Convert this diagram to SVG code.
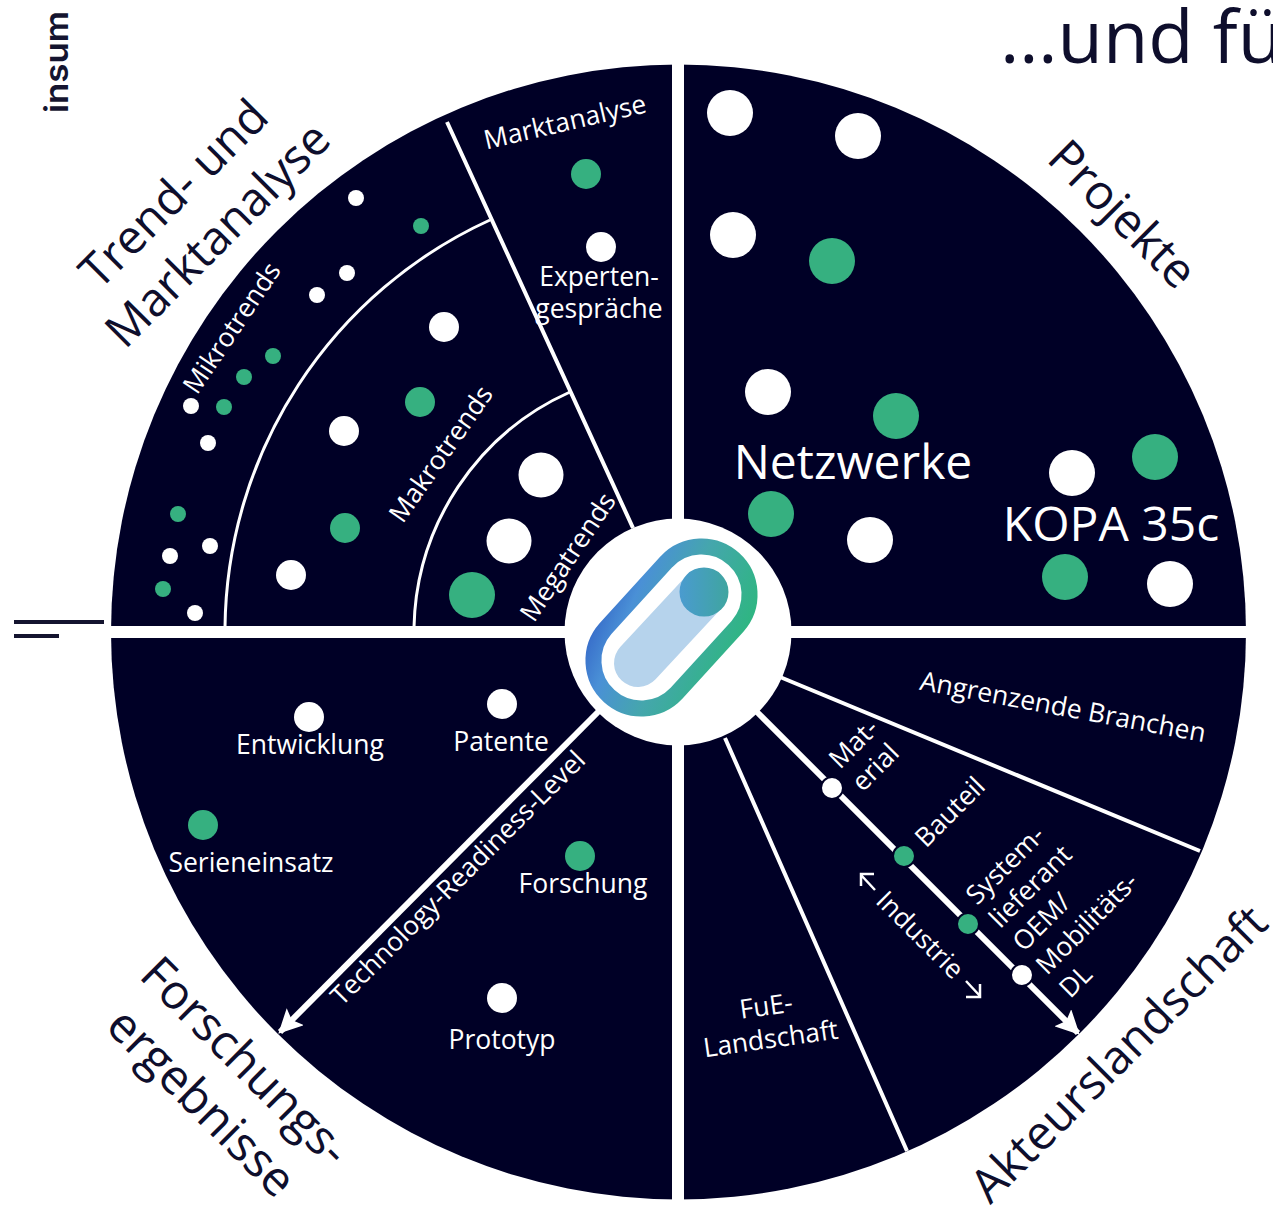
<svg xmlns="http://www.w3.org/2000/svg" width="1273" height="1213" viewBox="0 0 1273 1213">
<style>
text{font-family:"Open Sans","Noto Sans",sans-serif}
.s{font-size:26.500px;fill:#fff;text-anchor:middle}
.a{font-size:26.500px;fill:#fff}
.b{font-size:47px;fill:#0e0e2c;text-anchor:middle}
.w{fill:#fff}.g{fill:#36b080}
.l{stroke:#fff;fill:none}
</style>
<defs>
<linearGradient id="lg" gradientUnits="userSpaceOnUse" x1="590" y1="620" x2="726" y2="677">
<stop offset="0" stop-color="#3568c8"/><stop offset=".22" stop-color="#4a90d6"/><stop offset=".55" stop-color="#45a6ad"/><stop offset="1" stop-color="#2fb583"/>
</linearGradient>
<linearGradient id="tg" gradientUnits="userSpaceOnUse" x1="680" y1="592" x2="728" y2="592">
<stop offset="0" stop-color="#4a9bcf"/><stop offset="1" stop-color="#3fa5a0"/>
</linearGradient>
<marker id="ah" viewBox="0 0 10 10" refX="9" refY="5" markerWidth="4" markerHeight="4" orient="auto" markerUnits="strokeWidth"><path d="M0 0L10 5L0 10L2 5Z" fill="#fff"/></marker>
</defs>
<rect width="1273" height="1213" fill="#fff"/>
<g id="header">
<text x="1000" y="63" font-size="74" fill="#0e0e2c">…und fü</text>
<text transform="translate(68 113) rotate(-90)" font-size="33" font-weight="600" fill="#14142f" style="font-family:Inter,sans-serif" textLength="102" lengthAdjust="spacingAndGlyphs">insum</text>
<path d="M14 622H104M14 636H59" stroke="#14142f" stroke-width="4"/>
</g>
<g id="wheel"><circle cx="678.500" cy="632" r="567.500" fill="#000026"/></g>
<g id="connectors">
<path class="l" stroke-width="12" d="M678 60V1205M105 632H1252"/>
<path class="l" stroke-width="4" d="M447 122L633 528M780 677L1200 851M725 738L907 1151"/>
<path class="l" stroke-width="3" d="M225 627A453 453 0 0 1 490 220M414 627A264 264 0 0 1 570 392"/>
<path class="l" stroke-width="6" d="M600 710L280 1032" marker-end="url(#ah)"/>
<path class="l" stroke-width="6" d="M757 712L1078 1033" marker-end="url(#ah)"/>
</g>
<g id="dots-white" class="w">
<circle cx="730" cy="113" r="23"/><circle cx="858" cy="136" r="23"/><circle cx="733" cy="235" r="23"/><circle cx="768" cy="392" r="23"/><circle cx="1072" cy="473" r="23"/><circle cx="870" cy="540" r="23"/><circle cx="1170" cy="584" r="23"/>
<circle cx="601" cy="247" r="15"/><circle cx="541" cy="475" r="22.500"/><circle cx="509" cy="541" r="22.500"/>
<circle cx="444" cy="327" r="15"/><circle cx="344" cy="431" r="15"/><circle cx="291" cy="575" r="15"/>
<circle cx="356" cy="198" r="8"/><circle cx="347" cy="273" r="8"/><circle cx="317" cy="295" r="8"/><circle cx="191" cy="406" r="8"/><circle cx="208" cy="443" r="8"/><circle cx="210" cy="546" r="8"/><circle cx="170" cy="556" r="8"/><circle cx="195" cy="613" r="8"/>
<circle cx="309" cy="717" r="15"/><circle cx="502" cy="704" r="15"/><circle cx="502" cy="998" r="15"/>
</g>
<g id="dots-green" class="g">
<circle cx="832" cy="261" r="23"/><circle cx="896" cy="416" r="23"/><circle cx="771" cy="514" r="23"/><circle cx="1155" cy="457" r="23"/><circle cx="1065" cy="577" r="23"/>
<circle cx="586" cy="174" r="15"/><circle cx="472" cy="595" r="23"/><circle cx="420" cy="402" r="15"/><circle cx="345" cy="528" r="15"/>
<circle cx="421" cy="226" r="8"/><circle cx="273" cy="356" r="8"/><circle cx="244" cy="377" r="8"/><circle cx="224" cy="407" r="8"/><circle cx="178" cy="514" r="8"/><circle cx="163" cy="589" r="8"/>
<circle cx="203" cy="825" r="15"/><circle cx="580" cy="856" r="15"/>
</g>
<g id="chain" stroke="#000026" stroke-width="2">
<circle class="w" cx="832" cy="788" r="11"/><circle class="g" cx="904" cy="856" r="11"/><circle class="g" cx="968" cy="924" r="11"/><circle class="w" cx="1022" cy="975" r="11"/>
</g>
<g id="hub">
<circle cx="678" cy="632" r="113.500" fill="#fff"/>
<path d="M704 592L638 663" stroke="#b6d3ec" stroke-width="48" stroke-linecap="round"/>
<circle cx="704" cy="592" r="24.500" fill="url(#tg)"/>
<path d="M666.500 561.700L605.500 628.700A48 48 0 0 0 676.500 693.300L737.500 626.300A48 48 0 0 0 666.500 561.700Z" fill="none" stroke="url(#lg)" stroke-width="16"/>
</g>
<g id="labels-big">
<text class="b" transform="rotate(-45 205 225)"><tspan x="205" y="197">Trend- und</tspan><tspan x="207" y="257">Marktanalyse</tspan></text>
<text class="b" transform="translate(1111 226) rotate(45)" style="font-size:48px">Projekte</text>
<text class="b" transform="translate(1119 1054) rotate(-45)" y="16">Akteurslandschaft</text>
<text class="b" transform="translate(221 1083) rotate(45)" style="font-size:48px"><tspan x="2" y="-16">Forschungs-</tspan><tspan x="0" y="44">ergebnisse</tspan></text>
<text x="853" y="479" font-size="48" fill="#fff" text-anchor="middle">Netzwerke</text>
<text x="1111" y="541" font-size="48" fill="#fff" text-anchor="middle">KOPA 35c</text>
</g>
<g id="labels-small">
<text class="s" transform="translate(565 122) rotate(-13)" y="9">Marktanalyse</text>
<text class="s" x="599" y="286">Experten-</text><text class="s" x="599" y="318">gespräche</text>
<text class="s" transform="translate(232 328) rotate(-56)" y="9">Mikrotrends</text>
<text class="s" transform="translate(441 454) rotate(-55)" y="9">Makrotrends</text>
<text class="s" transform="translate(568 557) rotate(-56)" y="9">Megatrends</text>
<text class="s" x="310" y="754">Entwicklung</text>
<text class="s" x="501" y="751">Patente</text>
<text class="s" x="251" y="872">Serieneinsatz</text>
<text class="s" x="583" y="893">Forschung</text>
<text class="s" x="502" y="1049">Prototyp</text>
<text class="s" transform="translate(458 878) rotate(-45)" y="9">Technology-Readiness-Level</text>
<text class="s" transform="translate(1063 707) rotate(10.500)" y="9">Angrenzende Branchen</text>
<text class="s" transform="translate(769 1027) rotate(-8)"><tspan x="0" y="-12">FuE-</tspan><tspan x="0" y="21">Landschaft</tspan></text>
<text class="a" transform="translate(840 770) rotate(-45)"><tspan x="0" y="0">Mat-</tspan><tspan x="0" y="32">erial</tspan></text>
<text class="s" transform="translate(950 812) rotate(-45)" y="9">Bauteil</text>
<text class="a" transform="translate(977 906) rotate(-45)"><tspan x="0" y="0">System-</tspan><tspan x="0" y="33">lieferant</tspan><tspan x="0" y="66">OEM/</tspan><tspan x="0" y="99">Mobilitäts-</tspan><tspan x="0" y="132">DL</tspan></text>
<text class="s" transform="translate(920 935) rotate(45)" y="9">Industrie</text>
<path class="l" stroke-width="2.500" d="M875 890L861 875M861 886V874H874M966 981L980 996M980 984V997H966"/>
</g>
</svg>
